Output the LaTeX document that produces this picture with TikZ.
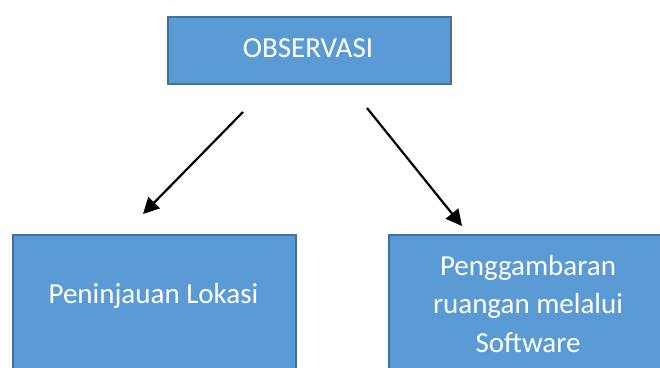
\documentclass[tikz,border=0pt]{standalone}
\usepackage{fontspec}
\setmainfont{Carlito}
\usetikzlibrary{arrows.meta}
\definecolor{boxfill}{HTML}{5B9BD5}
\definecolor{boxline}{HTML}{41719C}
\begin{document}
\begin{tikzpicture}[x=1pt,y=-1pt,
  blockbox/.style={draw=boxline,fill=boxfill,line width=2pt,inner sep=0pt,anchor=north west},
  blocktext/.style={text=white,font=\fontsize{29}{38.5}\selectfont,align=center,inner sep=0pt},
  flow/.style={line width=2.2pt,-{Triangle[length=16pt,width=16pt]}}]
\useasboundingbox (0,0) rectangle (660,367);
\clip (0,0) rectangle (660,367);
% top block
\node[blockbox,minimum width=283pt,minimum height=67pt] (obs) at (167,16) {};
\node[blocktext,anchor=base] (obst) at (308,57) {OBSERVASI};
% lower blocks, running past the lower edge
\node[blockbox,minimum width=283pt,minimum height=170pt] (lok) at (12,234) {};
\node[blocktext,anchor=base] (lokt) at (153.5,303) {Peninjauan Lokasi};
\node[blockbox,minimum width=282pt,minimum height=170pt] (sw) at (388,234) {};
% the base anchor of a multi-line node sits on its last line
\node[blocktext,anchor=base] (swt) at (528,352) {Penggambaran\\ruangan melalui\\Software};
% arrows
\coordinate (la) at (243,112);
\coordinate (lb) at (143,214);
\coordinate (ra) at (367,108);
\coordinate (rb) at (462,226);
\draw[flow] (la) -- (lb);
\draw[flow] (ra) -- (rb);
\end{tikzpicture}
\end{document}
